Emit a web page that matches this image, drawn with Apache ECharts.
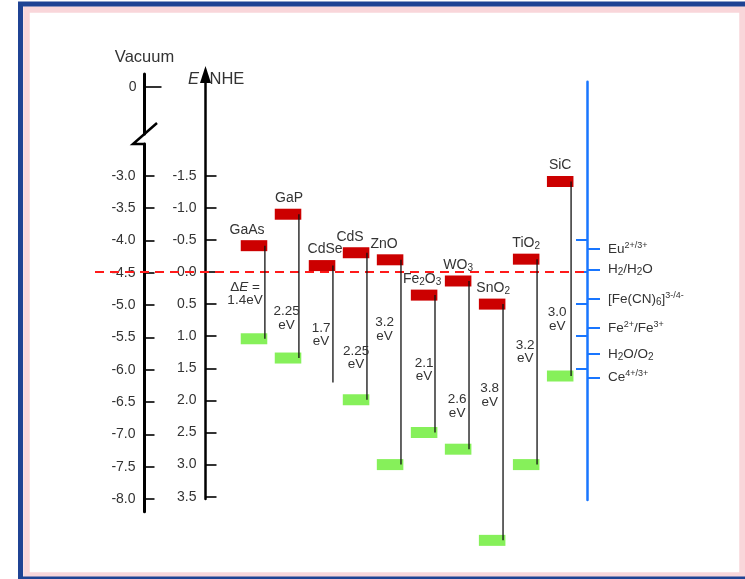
<!DOCTYPE html>
<html><head><meta charset="utf-8">
<script src="https://cdn.jsdelivr.net/npm/echarts@6/dist/echarts.min.js"></script>
<style>html,body{margin:0;padding:0;background:#fff}#c{width:745px;height:579px}</style>
</head><body><div id="c"></div>
<script>
// ---------- data (energies in V vs NHE) ----------
const semiconductors = ['GaAs','GaP','CdSe','CdS','ZnO','Fe2O3','WO3','SnO2','TiO2','SiC'];
const nameLabels = ['GaAs','GaP','CdSe','CdS','ZnO','Fe{sub|2}O{sub|3}','WO{sub|3}','SnO{sub|2}','TiO{sub|2}','SiC'];
const conductionBand = [-0.41,-0.90,-0.10,-0.30,-0.19,0.36,0.14,0.50,-0.20,-1.41];
const valenceBand = [1.04,1.34,1.72,1.99,3.00,2.50,2.76,4.18,3.00,1.62];
const hasValenceBar = [true,true,false,true,true,true,true,true,true,true];
const gapLabels = ['1.4','2.25','1.7','2.25','3.2','2.1','2.6','3.8','3.2','3.0'];
const gapLabelLevel = [0.34,0.72,0.98,1.34,0.89,1.52,2.09,1.92,1.24,0.74];
const nheTicks = [-1.5,-1.0,-0.5,0.0,0.5,1.0,1.5,2.0,2.5,3.0,3.5];
const vacuumTicks = [-3.0,-3.5,-4.0,-4.5,-5.0,-5.5,-6.0,-6.5,-7.0,-7.5,-8.0];
const vacuumTopTicks = [0];
const redoxLevels = [-0.36,-0.04,0.42,0.87,1.28,1.64];
const redoxLabels = ['Eu{sup|2+/3+}','H{sub|2}/H{sub|2}O','[Fe(CN){sub|6}]{sup|3-/4-}','Fe{sup|2+}/Fe{sup|3+}','H{sub|2}O/O{sub|2}','Ce{sup|4+/3+}'];
const blueTicks = [-0.5,0.0,0.5,1.0,1.5];
const referenceLevel = 0.0;

// ---------- layout / style ----------
const FONT = "'Liberation Sans', Arial, Helvetica, sans-serif";
const TXT = '#333';
const S = 64.2, Y0 = 272;              // px per volt, pixel row of 0 V NHE
const nheRange = (top, bottom) => ({min: (top - Y0) / S, max: (bottom - Y0) / S});
const SV = 64.7, VY3 = 175.7;          // vacuum scale: -3.0 at VY3
const vacLow = (top, bottom) => ({max: -3 + (VY3 - top) / SV, min: -3 - (bottom - VY3) / SV});
const VY0 = 86.7;
const vacTop = (top, bottom) => ({max: (VY0 - top) / SV, min: -(bottom - VY0) / SV});
const nameNudge = [-7,1,3,-6,-6,-2,0,1,0,0];
const gapNudge = [-9,-1.5,-1,0,-5.5,0,-1,-2.5,-1,-3];

const subRich = {
  sub: {fontSize: 10, fontFamily: FONT, color: TXT, verticalAlign: 'bottom', lineHeight: 10},
  sup: {fontSize: 9, fontFamily: FONT, color: TXT, verticalAlign: 'top', lineHeight: 9},
};

const rData = nheRange(74.5, 560);
const rNhe = nheRange(74.5, 499);
const rBlue = nheRange(81.7, 500);
const rVt = vacTop(74, 134);
const rVl = vacLow(144, 511.7);

const chart = echarts.init(document.getElementById('c'), null, {renderer: 'canvas'});
const blackAxis = (extra) => Object.assign({
  type: 'value', splitLine: {show: false},
}, extra);

chart.setOption({
  animation: false,
  backgroundColor: '#fff',
  textStyle: {fontFamily: FONT},
  grid: [
    {left: 237, width: 340.2, top: 74.5, height: 485.5},
    {left: 205.5, width: 1, top: 74.5, height: 424.5},
    {left: 144.5, width: 1, top: 74, height: 60},
    {left: 144.5, width: 1, top: 144, height: 367.7},
    {left: 587, width: 1, top: 81.7, height: 418.3},
    {left: 95, width: 490, top: 74.5, height: 485.5}
  ],
  xAxis: [
    {type: 'category', gridIndex: 0, data: semiconductors, show: false},
    {type: 'value', gridIndex: 1, min: 0, max: 1, show: false},
    {type: 'value', gridIndex: 2, min: 0, max: 1, show: false},
    {type: 'value', gridIndex: 3, min: 0, max: 1, show: false},
    {type: 'value', gridIndex: 4, min: 0, max: 1, show: false},
    {type: 'value', gridIndex: 5, min: 0, max: 1, show: false}
  ],
  yAxis: [
    blackAxis({gridIndex: 0, inverse: true, min: rData.min, max: rData.max, show: false}),
    blackAxis({
      gridIndex: 1, inverse: true, min: rNhe.min, max: rNhe.max,
      name: 'NHE', nameLocation: 'start', nameGap: -5,
      nameTextStyle: {align: 'left', verticalAlign: 'middle', padding: [0,0,0,4], fontSize: 16.5, color: TXT, fontFamily: FONT},
      axisLine: {show: true, onZero: false, symbol: ['none','triangle'], symbolSize: [11,17], lineStyle: {color: '#000', width: 2.5}},
      axisTick: {show: true, inside: true, length: 11, customValues: nheTicks, lineStyle: {color: '#000', width: 1.6}},
      axisLabel: {show: true, customValues: nheTicks, margin: 9, fontSize: 14, color: TXT, fontFamily: FONT,
        formatter: v => v.toFixed(1)}
    }),
    blackAxis({
      gridIndex: 2, min: rVt.min, max: rVt.max,
      name: 'Vacuum', nameLocation: 'end', nameGap: 8,
      nameTextStyle: {align: 'center', fontSize: 16.5, color: TXT, fontFamily: FONT},
      axisLine: {show: true, onZero: false, lineStyle: {color: '#000', width: 3}},
      axisTick: {show: true, inside: true, length: 17, customValues: vacuumTopTicks, lineStyle: {color: '#000', width: 1.6}},
      axisLabel: {show: true, customValues: vacuumTopTicks, margin: 8, fontSize: 14, color: TXT, fontFamily: FONT,
        formatter: v => String(Math.round(v))}
    }),
    blackAxis({
      gridIndex: 3, min: rVl.min, max: rVl.max,
      axisLine: {show: true, onZero: false, lineStyle: {color: '#000', width: 3}},
      axisTick: {show: true, inside: true, length: 10, customValues: vacuumTicks, lineStyle: {color: '#000', width: 1.6}},
      axisLabel: {show: true, customValues: vacuumTicks, margin: 9, fontSize: 14, color: TXT, fontFamily: FONT,
        formatter: v => v.toFixed(1)}
    }),
    blackAxis({
      gridIndex: 4, inverse: true, min: rBlue.min, max: rBlue.max, position: 'left',
      axisLine: {show: true, onZero: false, lineStyle: {color: '#1976ff', width: 2.5}},
      axisTick: {show: true, inside: false, length: 11, customValues: blueTicks, lineStyle: {color: '#1976ff', width: 2}},
      axisLabel: {show: false}
    }),
    blackAxis({
      gridIndex: 4, inverse: true, min: rBlue.min, max: rBlue.max, position: 'right',
      axisLine: {show: false, onZero: false},
      axisTick: {show: true, inside: false, length: 12, customValues: redoxLevels, lineStyle: {color: '#1976ff', width: 2}},
      axisLabel: {show: true, customValues: redoxLevels, margin: 20, fontSize: 13.5, color: TXT, fontFamily: FONT,
        lineHeight: 16,
        formatter: v => { const k = redoxLevels.findIndex(r => Math.abs(r - v) < 1e-6); return k >= 0 ? redoxLabels[k] : ''; },
        rich: subRich}
    }),
    blackAxis({gridIndex: 5, inverse: true, min: rData.min, max: rData.max, show: false})
  ],
  series: [
    {
      type: 'line', xAxisIndex: 5, yAxisIndex: 6, silent: true, symbol: 'none', z: 1,
      data: [[0, referenceLevel], [1, referenceLevel]],
      lineStyle: {color: '#ff1a1a', width: 2, type: [9, 6]}
    },
    {
      type: 'custom', xAxisIndex: 0, yAxisIndex: 0, silent: true, z: 3, clip: false,
      data: semiconductors.map((_, i) => [i, conductionBand[i], valenceBand[i], gapLabelLevel[i]]),
      renderItem: function (params, api) {
        const k = params.dataIndex;
        const i = api.value(0);
        const pC = api.coord([i, api.value(1)]);
        const pV = api.coord([i, api.value(2)]);
        const pG = api.coord([i, api.value(3)]);
        const bw = api.size([1, 0])[0];
        const w = bw * 0.78, h = 11;
        const lx = pC[0] + bw * 0.32;
        const kids = [];
        kids.push({type: 'rect', shape: {x: pC[0] - w / 2, y: pC[1] - h / 2, width: w, height: h},
          style: {fill: '#cc0000'}});
        if (hasValenceBar[k]) {
          kids.push({type: 'rect', shape: {x: pC[0] - w / 2, y: pV[1] - h / 2, width: w, height: h},
            style: {fill: '#86f05a'}});
        }
        kids.push({type: 'line', shape: {x1: lx, y1: pC[1], x2: lx, y2: pV[1]},
          style: {stroke: '#111', lineWidth: 1.3}});
        kids.push({type: 'text', x: pC[0] + nameNudge[k], y: pC[1] - h / 2 - 2,
          style: {text: nameLabels[k], fill: TXT, fontSize: 14, fontFamily: FONT, lineHeight: 17,
            align: 'center', verticalAlign: 'bottom', rich: subRich}});
        const gt = k === 0 ? ('{d|\u0394}{e|E} =\n' + gapLabels[k] + 'eV') : (gapLabels[k] + '\neV');
        kids.push({type: 'text', x: pC[0] + gapNudge[k], y: pG[1],
          style: {text: gt, fill: TXT, fontSize: 13.5, fontFamily: FONT, lineHeight: 13.5,
            align: 'center', verticalAlign: 'middle',
            rich: {d: {fontSize: 13.5, fontFamily: FONT, color: TXT, lineHeight: 13.5},
                   e: {fontSize: 13.5, fontFamily: FONT, color: TXT, fontStyle: 'italic', lineHeight: 13.5}}}});
        return {type: 'group', children: kids};
      }
    }
  ],
  graphic: [
    {type: 'rect', z: -10, silent: true, shape: {x: 26.5, y: 9.5, width: 716, height: 566},
      style: {fill: 'none', stroke: '#f9d6da', lineWidth: 6.5}},
    {type: 'rect', z: -9, silent: true, shape: {x: 20.5, y: 4, width: 740, height: 575},
      style: {fill: 'none', stroke: '#1f4394', lineWidth: 5}},
    {type: 'polyline', z: 10, silent: true, shape: {points: [[157, 123], [133, 144], [145.5, 144]]},
      style: {fill: 'none', stroke: '#000', lineWidth: 2.5}},
    {type: 'text', z: 10, silent: true, x: 188, y: 79.3,
      style: {text: 'E', fill: TXT, fontSize: 16.5, fontFamily: FONT, fontStyle: 'italic', verticalAlign: 'middle', align: 'left'}}
  ]
});
</script>
</body></html>
